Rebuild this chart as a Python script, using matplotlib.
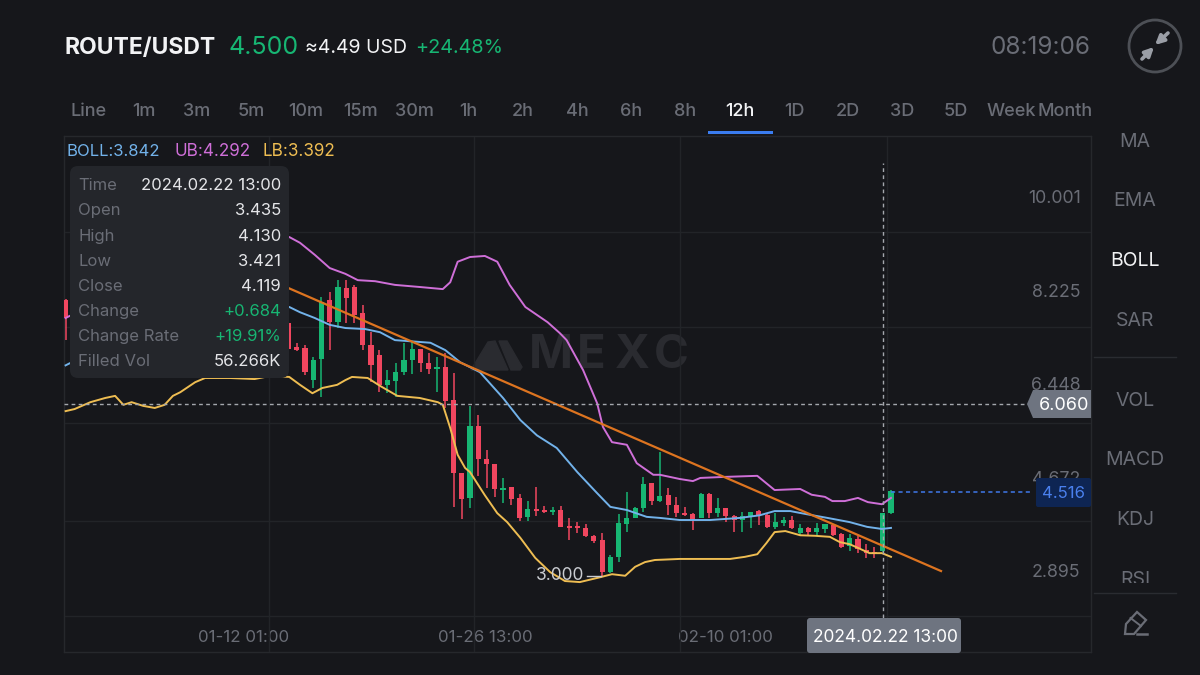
import matplotlib
matplotlib.use("Agg")
import numpy as np
import matplotlib.pyplot as plt
from matplotlib.patches import FancyBboxPatch, Polygon, Circle, Rectangle

plt.rcParams["font.family"] = ["Inter", "DejaVu Sans"]

# candles, 12h each, index 0 is the first one right of the tooltip
candle_idx = [-28] + list(range(-1, 73))
opens = [8.04, 7.60, 7.14, 7.13, 6.52, 6.92, 8.04, 7.62, 8.27, 8.29, 7.80, 7.19, 7.00, 6.43, 6.50, 6.67, 6.90,
         7.11, 6.85, 6.73, 6.77, 6.14, 4.75, 4.28, 5.65, 5.02, 4.92, 4.43, 4.49, 4.28, 3.92, 4.05, 4.05, 4.01,
         4.05, 3.75, 3.75, 3.71, 3.56, 3.48, 2.87, 3.15, 3.78, 3.90, 4.09, 4.56, 4.22, 4.33, 4.14, 3.99, 3.97,
         3.90, 4.35, 3.99, 4.09, 3.94, 3.86, 3.92, 4.03, 3.95, 3.73, 3.80, 3.86, 3.61, 3.71, 3.63, 3.69, 3.76,
         3.59, 3.37, 3.50, 3.29, 3.25, 3.27, 3.99]
highs = [8.06, 7.62, 7.22, 7.18, 6.96, 8.10, 8.19, 8.42, 8.42, 8.33, 7.95, 7.43, 7.09, 6.71, 6.85, 7.22, 7.24,
         7.11, 7.03, 6.96, 7.03, 6.65, 4.75, 6.03, 5.85, 5.19, 4.92, 4.66, 4.49, 4.35, 4.22, 4.49, 4.13, 4.11,
         4.13, 3.90, 3.82, 3.78, 3.57, 3.61, 3.19, 3.97, 4.39, 4.11, 4.68, 4.56, 5.15, 4.47, 4.30, 4.11, 3.99,
         4.37, 4.37, 4.28, 4.09, 3.95, 4.01, 4.01, 4.05, 3.97, 3.99, 3.92, 3.94, 3.78, 3.73, 3.80, 3.78, 3.78,
         3.61, 3.59, 3.56, 3.40, 3.35, 3.99, 4.43]
lows = [7.28, 7.09, 7.07, 6.62, 6.37, 6.20, 7.09, 7.51, 7.60, 7.60, 7.09, 6.48, 6.29, 6.27, 6.20, 6.62, 6.64,
        6.67, 6.64, 6.29, 5.99, 4.11, 3.88, 4.09, 4.70, 4.47, 4.30, 4.18, 4.14, 3.84, 3.84, 3.94, 3.99, 3.95,
        3.73, 3.48, 3.61, 3.54, 3.42, 2.80, 2.85, 3.06, 3.63, 3.90, 4.01, 4.14, 4.20, 3.95, 3.92, 3.94, 3.67,
        3.90, 3.90, 3.92, 3.82, 3.63, 3.63, 3.71, 3.76, 3.71, 3.69, 3.75, 3.69, 3.57, 3.57, 3.57, 3.61, 3.56,
        3.33, 3.27, 3.23, 3.14, 3.14, 3.25, 3.97]
closes = [7.70, 7.11, 7.09, 6.67, 6.90, 8.00, 7.62, 8.29, 8.08, 7.76, 7.19, 6.81, 6.43, 6.52, 6.67, 6.90, 7.11,
          6.85, 6.73, 6.77, 6.12, 4.75, 4.26, 5.65, 5.02, 4.92, 4.45, 4.47, 4.26, 3.90, 4.07, 4.03, 4.01, 4.05,
          3.73, 3.71, 3.71, 3.56, 3.46, 2.87, 3.15, 3.80, 3.90, 4.09, 4.54, 4.22, 4.32, 4.14, 3.99, 3.95, 3.88,
          4.35, 3.99, 4.09, 3.94, 3.86, 3.94, 4.01, 3.94, 3.73, 3.82, 3.86, 3.71, 3.71, 3.63, 3.71, 3.78, 3.57,
          3.35, 3.52, 3.31, 3.23, 3.21, 3.99, 4.41]

upper_idx = [-28, -27.5, -0.9, 0.4, 2.2, 4, 5.9, 7.4, 9.5, 11.9, 14.9, 17.7, 18.6, 19.5, 21, 22.8, 24.3, 25.8,
             27.7, 30.4, 31.9, 32.7, 34.7, 36.4, 37.1, 38.2, 40, 41.2, 43.2, 44, 46.4, 48, 48.9, 51.9, 55.8,
             57.9, 61, 62.4, 64, 64.9, 66.4, 68, 69.2, 70.9, 72]
upper_val = [7.70, 7.74, 9.24, 9.13, 8.90, 8.65, 8.54, 8.42, 8.40, 8.33, 8.29, 8.25, 8.38, 8.77, 8.86, 8.88, 8.77,
             8.33, 7.91, 7.62, 7.41, 7.28, 6.71, 6.08, 5.63, 5.34, 5.29, 4.94, 4.72, 4.72, 4.64, 4.60, 4.66, 4.68,
             4.70, 4.43, 4.45, 4.34, 4.30, 4.22, 4.22, 4.28, 4.20, 4.16, 4.28]

middle_idx = [-28, -27.5, -0.9, 0.4, 2.2, 4, 5.9, 8.3, 10.1, 11.9, 16.2, 18, 19.8, 22.2, 25, 27.1, 29.1, 31.5,
              34, 36.4, 38, 40, 42.4, 44, 46.4, 50.1, 53.7, 56.1, 57.9, 59.8, 61.8, 64.3, 67, 69.1, 70.9, 72]
middle_val = [6.80, 6.84, 7.91, 7.81, 7.70, 7.57, 7.51, 7.49, 7.43, 7.28, 7.23, 7.09, 6.86, 6.67, 6.18, 5.76, 5.47,
              5.23, 4.77, 4.37, 4.11, 4.05, 3.92, 3.90, 3.86, 3.86, 3.90, 3.95, 4.03, 4.03, 3.97, 3.90, 3.82, 3.73,
              3.69, 3.71]

lower_idx = [-28, -26.9, -25, -23.2, -22, -21, -20, -18.6, -17.2, -16, -15, -14.1, -12.3, -11.1, -8.1, -5.1, -3.2,
             -0.9, 0.4, 1.9, 3.1, 4.9, 5.9, 6.7, 8.6, 10.1, 12.2, 14.9, 17.1, 17.7, 18.6, 19.5, 20.4, 21, 22.8,
             24.3, 25.5, 27.1, 28.9, 30.7, 32.5, 34.3, 36.7, 38.2, 39.8, 41, 42.2, 43.4, 46.4, 52.5, 54.3, 55.8,
             56.9, 57.9, 59.2, 61, 62.8, 64.6, 65.8, 67, 68, 69.4, 70.9, 72]
lower_val = [5.93, 5.97, 6.10, 6.18, 6.22, 6.05, 6.10, 6.03, 5.99, 6.05, 6.22, 6.29, 6.48, 6.56, 6.56, 6.54, 6.60,
             6.58, 6.43, 6.27, 6.37, 6.43, 6.52, 6.58, 6.56, 6.41, 6.22, 6.18, 6.10, 6.05, 5.61, 5.10, 4.85, 4.77,
             4.33, 3.99, 3.82, 3.52, 3.14, 2.87, 2.70, 2.68, 2.77, 2.83, 2.80, 2.97, 3.06, 3.10, 3.12, 3.12, 3.16,
             3.21, 3.42, 3.63, 3.65, 3.57, 3.56, 3.54, 3.44, 3.40, 3.33, 3.23, 3.23, 3.16]

trend_idx = [-1, 78.06]
trend_val = [8.27, 2.89]

price_ticks = [10.001, 8.225, 6.448, 4.672, 2.895]
price_grid = [9.335, 7.529, 5.704, 3.841, 2.035]
time_grid = [-3.3, 21.5, 46.4, 71.5]
time_ticks = [-6.4, 22.8, 51.9]
time_labels = ["01-12 01:00", "01-26 13:00", "02-10 01:00"]

cross_idx = 71
cross_price = 6.060
last_line_price = 4.39
low_mark_price = 2.80

tabs = ["Line", "1m", "3m", "5m", "10m", "15m", "30m", "1h", "2h", "4h", "6h", "8h", "12h", "1D", "2D", "3D", "5D", "Week", "Month"]
tab_x = [89, 144, 197, 251, 306, 360, 414, 468, 523, 577, 631, 685, 740, 794, 848, 902, 956, 1011, 1065]
side_names = ["MA", "EMA", "BOLL", "SAR", "VOL", "MACD", "KDJ"]
side_y = [140, 199, 259, 319, 399, 458, 518]
tip_names = ["Time", "Open", "High", "Low", "Close", "Change", "Change Rate", "Filled Vol"]
tip_vals = ["2024.02.22 13:00", "3.435", "4.130", "3.421", "4.119", "+0.684", "+19.91%", "56.266K"]
tip_y = [184, 209, 235, 260, 285, 310, 335, 360]

BG = "#16171b"
GRID = "#222428"
GRAY = "#6a6d76"
GREEN = "#17b673"
RED = "#f0465f"
BLUE = "#72b2ea"
PINK = "#cf6fd8"
YELLOW = "#eebd52"
ORANGE = "#dd7420"
TAG = "#6e7480"
MARK = "#2a2b30"


def layer(z):
    # full figure axes in image pixels
    a = fig.add_axes([0, 0, 1, 1], zorder=z)
    a.set_xlim(0, 1200)
    a.set_ylim(675, 0)
    a.axis("off")
    return a


fig = plt.figure(figsize=(12, 6.75), dpi=100, facecolor=BG)
back = layer(-1)
ui = layer(5)

# watermark
for letter, x in zip("MEXC", [551, 591, 632, 671]):
    back.text(x, 356, letter, color=MARK, fontsize=34, fontweight="bold", ha="center", va="center")
back.add_patch(Polygon([(471, 370), (488, 342), (495, 341), (508, 370)], color=MARK))
back.add_patch(Polygon([(499, 341), (507, 341), (522, 367), (520, 370), (511, 370)], color=MARK))

# chart area
ax = fig.add_axes([64 / 1200, 1 - 652 / 675, (1091 - 64) / 1200, (652 - 136) / 675], zorder=1)
ax.patch.set_alpha(0)
ax.set_xlim((64 - 296.7) / 8.254, (1091 - 296.7) / 8.254)
ax.set_ylim(13.746 - 652 * 0.019011, 13.746 - 136 * 0.019011)
for s in ax.spines.values():
    s.set_color("#26282c")
    s.set_linewidth(1)

ax.yaxis.tick_right()
ax.set_yticks(price_ticks)
ax.set_yticklabels(["%.3f" % v for v in price_ticks], color=GRAY, fontsize=12.8, ha="right")
ax.set_yticks(price_grid, minor=True)
ax.set_xticks(time_ticks)
ax.set_xticklabels(time_labels, color=GRAY, fontsize=12.2)
ax.set_xticks(time_grid, minor=True)
ax.tick_params(axis="y", which="major", length=0, pad=-7.5)
ax.tick_params(axis="x", which="major", length=0, pad=-16)
ax.tick_params(which="minor", length=0)
ax.grid(which="minor", color=GRID, linewidth=1)
ax.set_axisbelow(True)

# candles
o = np.array(opens)
c = np.array(closes)
cols = [GREEN if a >= b else RED for a, b in zip(closes, opens)]
ax.vlines(candle_idx, lows, highs, colors=cols, linewidth=1.1, zorder=3)
ax.bar(candle_idx, np.maximum(np.abs(c - o), 0.03), bottom=np.minimum(o, c), width=0.62, color=cols, zorder=3)

# bollinger bands and drawn trend line
ax.plot(upper_idx, upper_val, color=PINK, lw=1.4, zorder=4)
ax.plot(middle_idx, middle_val, color=BLUE, lw=1.4, zorder=4)
ax.plot(lower_idx, lower_val, color=YELLOW, lw=1.4, zorder=4)
ax.plot(trend_idx, trend_val, color=ORANGE, lw=1.6, zorder=5)

# crosshair and last price line
ax.axhline(cross_price, color="#a4a7ad", lw=1, ls=(0, (2.7, 2.4)), zorder=6)
ax.plot([cross_idx, cross_idx], [1.6, 10.65], color="#a4a7ad", lw=1, ls=(0, (2.7, 2.4)), zorder=6)
ax.plot([72, 89.2], [last_line_price, last_line_price], color="#3f78ea", lw=1.1, ls=(0, (2.7, 2.2)), zorder=6)
ax.plot([35.2, 36.9], [low_mark_price, low_mark_price], color="#c9ccd1", lw=1, zorder=6)
ax.text(34.8, low_mark_price, "3.000", color="#c9ccd1", fontsize=12.5, ha="right", va="center", zorder=6)

# header
ui.text(64, 48, "ROUTE/USDT", color="#f2f3f5", fontsize=16.5, fontweight="bold", va="center")
ui.text(229, 48, "4.500", color=GREEN, fontsize=18, va="center")
ui.text(305, 48, "≈4.49 USD", color="#f2f3f5", fontsize=14, va="center")
ui.text(415, 48, "+24.48%", color=GREEN, fontsize=14.3, va="center")
ui.text(1091, 48, "08:19:06", color=GRAY, fontsize=17.5, ha="right", va="center")

# collapse button
ui.add_patch(Circle((1155, 46), 26, fill=False, ec="#4d5056", lw=2))
arrow = dict(arrowstyle="-|>", color="#9a9ea6", lw=2.6, shrinkA=0, shrinkB=0, mutation_scale=13)
ui.annotate("", xy=(1155, 45), xytext=(1168, 33), arrowprops=arrow)
ui.annotate("", xy=(1154, 47), xytext=(1142, 59), arrowprops=arrow)

# interval tabs
for name, x in zip(tabs, tab_x):
    active = name == "12h"
    ui.text(x, 112, name, color="#f2f3f5" if active else GRAY, fontsize=13, ha="center", va="center", fontweight="medium")
ui.add_patch(Rectangle((708, 131), 65, 3, color="#3b7df0", lw=0))

# band values
ui.text(67, 152, "BOLL:3.842", color=BLUE, fontsize=12, va="center")
ui.text(174, 152, "UB:4.292", color=PINK, fontsize=12.3, va="center")
ui.text(262, 152, "LB:3.392", color=YELLOW, fontsize=12.3, va="center")

# tooltip
ui.add_patch(FancyBboxPatch((78, 174), 203, 196, boxstyle="round,pad=8,rounding_size=8", fc="#24262b", ec="none"))
for name, val, y in zip(tip_names, tip_vals, tip_y):
    col = GREEN if val.startswith("+") else "#e4e5e8"
    ui.text(78, y + 1.5, name, color=GRAY, fontsize=12, va="center")
    ui.text(281, y + 1.5, val, color=col, fontsize=12, ha="right", va="center")

# price tags
ui.add_patch(Polygon([(1027, 404), (1033, 390), (1091, 390), (1091, 418), (1033, 418)], color=TAG, lw=0))
ui.text(1064, 405.5, "6.060", color="white", fontsize=13, ha="center", va="center")
ui.add_patch(FancyBboxPatch((1038, 480), 51, 25, boxstyle="round,pad=2,rounding_size=2", fc="#0e2553", ec="none"))
ui.text(1063.5, 494, "4.516", color="#4a80ee", fontsize=12, ha="center", va="center")
ui.add_patch(FancyBboxPatch((809, 620), 150, 31, boxstyle="round,pad=2,rounding_size=3", fc=TAG, ec="none"))
ui.text(885, 637, "2024.02.22 13:00", color="white", fontsize=12.5, ha="center", va="center")

# right side menu
for name, y in zip(side_names, side_y):
    ui.text(1135, y + 2, name, color="#f2f3f5" if name == "BOLL" else GRAY, fontsize=14, ha="center", va="center")
rsi = ui.text(1135, 580, "RSI", color=GRAY, fontsize=14, ha="center", va="center", clip_on=True)
rsi.set_clip_path(Rectangle((1094, 560), 90, 23, transform=ui.transData))
ui.plot([1094, 1176], [357, 357], color="#2a2c31", lw=1)
ui.plot([1094, 1176], [593, 593], color="#2a2c31", lw=1)

# pencil icon
ui.add_patch(Polygon([(1125, 634), (1126, 624), (1137, 612), (1146, 620), (1134, 634)], fill=False, ec=GRAY, lw=1.6))
ui.plot([1130.5, 1141], [618, 626], color=GRAY, lw=1.4)
ui.plot([1137, 1147], [634, 634], color=GRAY, lw=1.8)

fig.savefig("out.png", dpi=100, facecolor=BG)
